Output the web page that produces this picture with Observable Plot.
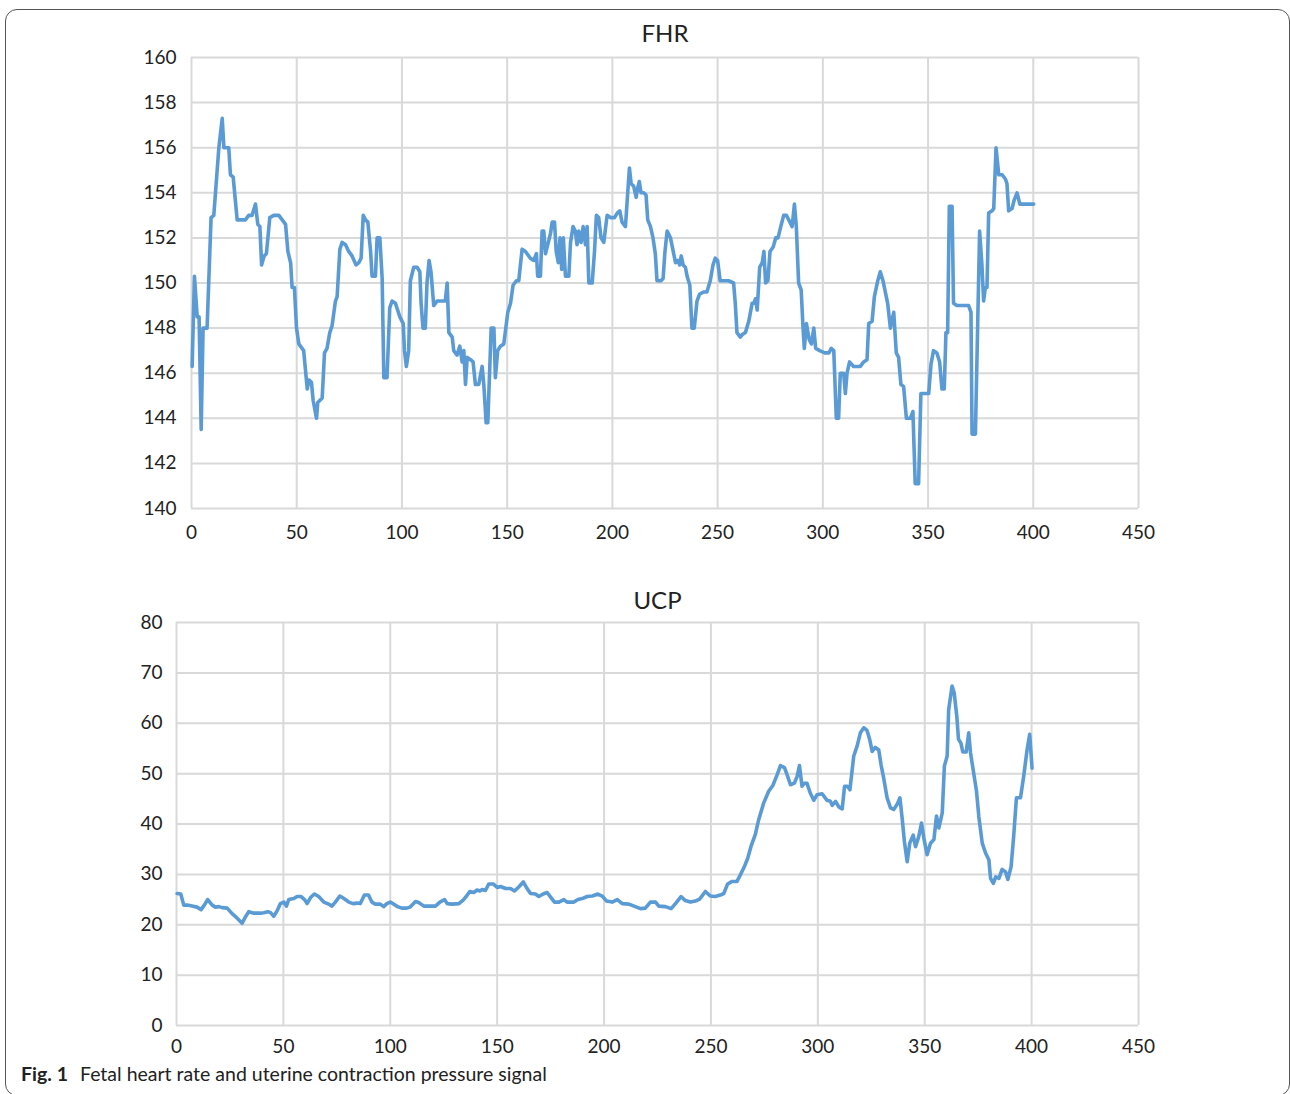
<!DOCTYPE html>
<html>
<head>
<meta charset="utf-8">
<script src="https://cdn.jsdelivr.net/npm/d3@7"></script>
<script src="https://cdn.jsdelivr.net/npm/@observablehq/plot@0.6"></script>
<style>
  html, body { margin: 0; padding: 0; background: #fff; }
  #page { position: relative; width: 1290px; height: 1094px; overflow: hidden; background: #fff; }
  #frame { position: absolute; left: 5px; top: 9px; width: 1283px; height: 1085px; border: 1.5px solid #555; border-radius: 12px; }
  .chart { position: absolute; left: 0; }
  #caption { position: absolute; left: 21px; top: 1062px; font-family: Lato, "Open Sans", sans-serif; font-size: 19.5px; color: #222; white-space: nowrap; }
  #caption b { font-weight: 700; margin-right: 12px; }
</style>
</head>
<body>
<div id="page">
  <div id="frame"></div>
  <div id="top" class="chart" style="top:0px"></div>
  <div id="bottom" class="chart" style="top:560px"></div>
  <div id="caption"><b>Fig. 1</b>Fetal heart rate and uterine contraction pressure signal</div>
</div>
<script>
// ---- Data ----
const fhrTitle = "FHR";
const ucpTitle = "UCP";
const xTicks = [0, 50, 100, 150, 200, 250, 300, 350, 400, 450];
const fhrTicks = [140, 142, 144, 146, 148, 150, 152, 154, 156, 158, 160];
const ucpTicks = [0, 10, 20, 30, 40, 50, 60, 70, 80];

const fhrTime = [0.3,1.4,2.7,3.6,4.6,5.5,7.4,9.3,10.6,13.0,14.6,15.4,17.7,18.5,19.8,21.7,25.6,27.2,28.8,30.4,31.5,32.5,33.3,34.5,35.6,37.2,39.1,41.5,43.1,44.7,45.8,47.1,47.8,48.9,49.9,51.0,53.3,54.1,55.0,55.8,57.0,57.8,59.4,60.0,62.1,63.2,64.4,65.7,66.8,68.4,69.2,70.5,71.6,73.2,74.7,76.3,78.2,79.5,80.6,81.6,82.7,83.8,85.1,85.8,87.4,88.2,89.5,90.6,91.4,92.9,94.2,95.3,96.9,99.0,100.6,101.2,102.1,103.2,104.0,105.6,107.2,108.5,109.1,110.0,111.1,111.9,112.9,113.8,115.1,116.7,119.1,120.6,121.5,122.3,123.9,124.6,126.2,127.5,128.6,129.4,130.2,131.0,132.6,133.8,134.9,136.5,138.1,138.9,140.0,140.8,142.4,143.7,144.4,145.5,146.8,148.4,150.3,151.6,152.8,154.4,155.5,157.1,158.7,161.0,162.6,163.9,164.5,165.8,166.6,167.4,168.2,169.3,170.6,171.4,172.5,173.3,174.3,175.1,175.9,176.7,177.7,179.3,180.1,181.3,182.4,183.2,184.0,185.1,186.1,187.2,188.0,188.8,190.4,191.5,192.4,193.5,194.6,195.9,197.5,199.1,201.0,202.3,203.5,204.6,206.2,207.0,208.1,208.9,210.1,211.3,212.0,212.8,213.6,214.9,216.0,216.8,218.1,219.3,220.4,221.2,223.1,224.1,224.9,226.0,227.6,228.9,230.0,231.1,232.0,232.7,233.6,234.7,235.5,236.8,237.8,238.9,240.2,241.4,243.3,244.9,246.5,247.8,248.9,250.0,251.2,252.8,255.2,257.6,258.4,259.2,260.8,261.6,263.2,264.8,266.4,267.2,268.0,268.8,270.0,271.2,272.0,272.8,273.9,274.9,276.4,277.6,278.7,280.0,281.4,282.7,283.8,285.4,286.5,287.4,288.5,289.7,290.6,291.2,292.2,293.5,294.6,295.7,296.6,298.5,300.9,302.9,304.0,305.2,306.4,307.5,308.3,309.9,310.7,311.5,312.7,314.6,317.8,319.4,321.0,321.8,323.4,324.5,326.1,327.3,328.6,329.7,330.8,332.1,333.7,334.9,336.0,337.1,338.4,339.7,341.6,342.8,343.9,345.5,346.6,348.7,350.3,351.4,352.6,354.2,355.5,356.6,357.7,358.5,359.3,360.1,361.4,362.1,363.7,366.9,369.3,370.4,370.9,372.5,374.5,375.6,376.4,377.2,378.0,378.8,380.4,381.2,382.3,383.6,385.2,386.8,387.5,388.3,389.9,391.0,392.3,393.6,395.5,397.8,400.2];
const fhrValue = [146.3,150.3,148.5,148.5,143.5,148.0,148.0,152.9,153.0,156.0,157.3,156.0,156.0,154.8,154.7,152.8,152.8,153.0,153.0,153.5,152.6,152.5,150.8,151.2,151.3,152.9,153.0,153.0,152.8,152.6,151.4,150.9,149.8,149.8,148.0,147.3,147.0,146.2,145.3,145.7,145.6,144.8,144.0,144.7,144.9,146.9,147.1,147.8,148.1,149.2,149.4,151.5,151.8,151.7,151.4,151.2,150.8,150.9,151.1,153.0,152.8,152.7,151.4,150.3,150.3,152.0,152.0,150.2,145.8,145.8,148.9,149.2,149.1,148.5,148.2,147.0,146.3,147.0,150.1,150.7,150.7,150.5,149.1,148.0,148.0,150.0,151.0,150.5,149.0,149.2,149.2,149.2,150.0,147.8,147.6,147.0,146.8,147.2,146.5,147.0,145.5,146.7,146.6,146.5,145.5,145.5,146.3,145.5,143.8,143.8,148.0,148.0,145.8,147.0,147.2,147.3,148.7,149.1,149.9,150.1,150.1,151.5,151.4,151.1,151.0,151.3,150.3,150.3,152.3,152.3,151.3,151.7,152.2,152.7,152.7,151.4,150.9,152.0,150.6,152.0,150.3,150.3,151.8,152.5,152.3,151.7,152.3,151.8,152.5,151.7,152.5,150.0,150.0,151.4,153.0,152.9,152.0,151.8,153.0,152.9,152.9,153.1,153.2,152.7,152.5,153.6,155.1,154.4,154.3,153.8,154.2,154.5,154.0,154.0,153.9,152.8,152.5,152.0,151.3,150.1,150.1,150.2,151.3,152.3,152.0,151.4,150.9,151.0,150.8,151.2,150.8,150.7,150.3,149.9,148.0,148.0,149.2,149.5,149.6,149.6,150.1,150.8,151.1,151.0,150.1,150.1,150.1,150.0,149.1,147.8,147.6,147.7,147.8,148.3,149.1,149.1,149.3,148.8,150.7,150.9,151.4,150.0,150.1,151.4,151.6,152.0,152.0,152.5,153.0,153.0,152.8,152.5,153.5,152.5,150.0,149.7,148.0,147.1,148.2,147.5,147.3,148.0,147.1,147.0,146.9,146.9,147.1,147.0,144.0,144.0,146.0,146.0,145.1,146.0,146.5,146.3,146.3,146.5,146.6,148.2,148.3,149.4,150.1,150.5,150.1,149.6,149.1,148.0,148.7,146.9,146.7,145.5,145.4,144.0,144.0,144.3,141.1,141.1,145.1,145.1,145.1,146.4,147.0,146.9,146.5,145.3,145.3,147.8,147.8,153.4,153.4,149.1,149.0,149.0,149.0,148.7,143.3,143.3,152.3,150.8,149.2,149.8,149.8,153.1,153.2,153.3,156.0,154.8,154.8,154.6,154.4,153.2,153.3,153.7,154.0,153.5,153.5,153.5,153.5];

const ucpTime = [0.3,2.0,3.4,5.0,7.3,9.6,11.5,13.0,14.6,16.7,18.2,19.8,21.4,23.7,26.0,28.4,30.7,32.3,33.8,36.2,39.3,40.8,42.7,44.0,45.5,47.1,48.6,50.2,51.4,52.5,54.9,56.4,58.3,59.9,61.1,62.7,64.5,66.5,68.9,71.2,72.7,74.3,76.4,78.3,80.6,82.6,84.5,86.0,87.9,89.8,91.4,93.0,95.3,96.9,98.4,100.0,101.5,103.4,105.4,107.7,109.3,111.8,113.3,115.7,118.0,121.1,123.2,125.4,126.6,128.9,132.1,134.1,135.7,137.2,139.1,140.6,141.9,143.0,144.5,146.1,148.1,150.0,151.6,153.9,156.2,158.1,160.1,162.2,163.7,165.6,167.9,169.5,171.5,173.4,175.0,176.8,178.9,181.2,182.7,185.9,187.8,189.8,192.1,194.5,197.1,199.1,201.2,203.8,206.2,208.5,211.6,214.0,217.0,219.3,221.7,224.1,225.6,228.7,231.4,233.4,236.0,238.0,240.4,242.7,244.7,247.4,249.7,252.0,254.4,256.0,257.8,259.9,262.2,264.1,265.6,267.2,268.7,270.8,272.3,274.7,277.0,279.0,281.0,282.5,284.4,285.6,287.2,289.0,290.3,291.4,292.6,293.7,294.9,296.5,298.1,299.6,302.0,304.3,305.9,306.7,308.3,309.8,311.4,312.5,313.8,315.0,316.8,318.4,319.9,321.5,323.0,324.3,325.4,326.9,328.5,329.6,330.8,332.4,334.0,335.5,337.1,338.4,339.5,340.5,341.8,343.0,344.6,345.7,347.2,348.5,349.6,351.1,352.7,354.3,355.5,356.6,358.2,359.2,360.5,361.2,362.8,363.8,365.0,365.8,366.9,367.8,369.4,370.6,371.4,372.6,374.2,375.3,376.9,378.5,380.0,380.8,382.1,383.2,384.7,386.2,387.8,388.9,390.4,391.6,392.9,394.8,396.3,397.9,399.1,400.2];
const ucpValue = [26.2,26.1,23.9,23.9,23.7,23.5,23.0,23.9,25.0,23.9,23.5,23.6,23.4,23.3,22.2,21.3,20.3,21.6,22.6,22.3,22.3,22.4,22.6,22.4,21.7,22.8,24.2,24.5,23.7,25.0,25.2,25.6,25.6,25.0,24.2,25.4,26.1,25.6,24.5,24.1,23.7,24.5,25.7,25.2,24.5,24.2,24.3,24.2,25.9,25.9,24.5,24.1,24.1,23.6,24.2,24.5,24.1,23.6,23.3,23.3,23.5,24.6,24.4,23.7,23.7,23.7,24.5,25.0,24.2,24.1,24.2,24.9,25.7,26.6,26.4,26.9,26.7,27.0,26.8,28.1,28.1,27.4,27.6,27.2,27.2,26.7,27.5,28.5,27.4,26.2,26.1,25.6,26.1,26.4,25.5,24.5,24.5,25.0,24.5,24.5,25.0,25.2,25.6,25.7,26.1,25.7,24.7,24.5,25.0,24.2,24.1,23.7,23.2,23.3,24.5,24.5,23.7,23.6,23.2,24.2,25.6,24.8,24.5,24.7,25.1,26.6,25.7,25.6,25.9,26.2,28.1,28.6,28.6,30.2,31.5,33.2,35.5,38.0,40.8,44.2,46.5,47.7,49.8,51.6,51.2,49.8,47.8,48.1,49.4,51.6,47.5,48.1,48.1,46.1,44.7,45.8,46.0,44.7,44.5,43.7,44.5,43.4,43.0,47.5,47.5,46.8,53.5,55.5,58.1,59.1,58.6,56.7,54.4,55.2,54.7,51.7,49.1,45.2,43.2,42.9,43.9,45.2,40.9,36.5,32.5,36.2,37.8,35.5,37.5,40.2,37.2,33.9,36.2,36.9,41.6,39.2,42.2,51.5,53.5,62.7,67.4,66.0,61.4,56.8,56.1,54.3,54.3,58.1,54.2,50.9,46.6,41.5,36.2,34.2,32.9,29.2,28.2,29.5,29.2,31.0,30.5,29.0,31.5,37.5,45.2,45.2,49.5,54.8,57.8,51.1];

const fhr = fhrTime.map((t, i) => ({t, v: fhrValue[i]}));
const ucp = ucpTime.map((t, i) => ({t, v: ucpValue[i]}));

const lineColor = "#5b9bd5";
const gridColor = "#d9d9d9";
const font = "Lato, 'Open Sans', sans-serif";

function chart(data, yDomain, yTicks, title, opts) {
  return Plot.plot({
    width: 1290,
    height: opts.height,
    marginLeft: opts.left,
    marginRight: 152,
    marginTop: opts.top,
    marginBottom: opts.bottom,
    style: {fontFamily: font, fontSize: "19px", color: "#222", background: "transparent", overflow: "visible"},
    x: {domain: [0, 450], ticks: xTicks},
    y: {domain: yDomain, ticks: yTicks},
    marks: [
      Plot.gridX(xTicks, {stroke: gridColor, strokeOpacity: 1, strokeWidth: 2}),
      Plot.gridY(yTicks, {stroke: gridColor, strokeOpacity: 1, strokeWidth: 2}),
      Plot.axisX(xTicks, {tickSize: 0, tickPadding: opts.xPad, label: null, fontSize: 19}),
      Plot.axisY(yTicks, {tickSize: 0, tickPadding: opts.yPad, label: null, fontSize: 19}),
      Plot.line(data, {x: "t", y: "v", stroke: lineColor, strokeWidth: 3.6, strokeLinejoin: "round"}),
      Plot.text([title], {frameAnchor: "top", lineAnchor: "middle", dy: opts.titleDy, fontSize: 24, fill: "#222", fontFamily: font})
    ]
  });
}

document.getElementById("top").append(chart(fhr, [140, 160], fhrTicks, fhrTitle,
  {height: 560, left: 191, top: 57, bottom: 52, xPad: 17, yPad: 15, titleDy: -23}));
document.getElementById("bottom").append(chart(ucp, [0, 80], ucpTicks, ucpTitle,
  {height: 500, left: 176, top: 62, bottom: 35, xPad: 14, yPad: 14, titleDy: -21}));
</script>
</body>
</html>
